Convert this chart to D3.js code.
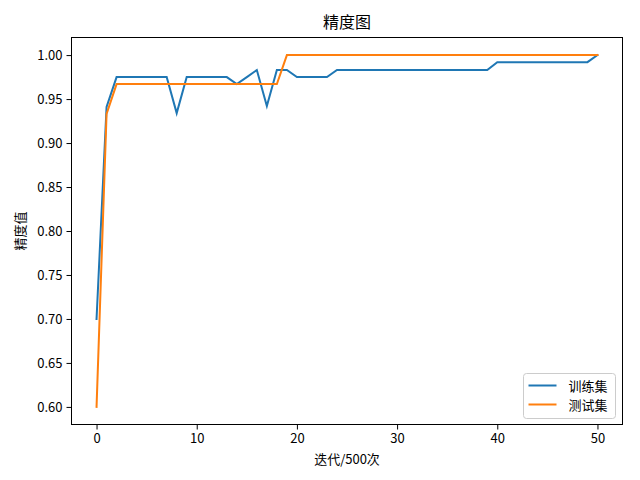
<!DOCTYPE html>
<html>
<head>
<meta charset="utf-8">
<script src="https://cdn.jsdelivr.net/npm/d3@7/dist/d3.min.js"></script>
<style>
  body { margin: 0; background: #fff; }
  text { font-family: "Noto Sans CJK SC", "DejaVu Sans", sans-serif; }
</style>
</head>
<body>
<svg width="640" height="480"></svg>
<script>
// iteration index (x500)
var steps = d3.range(0, 51);

var trainAcc = [0.70, 0.941, 0.975, 0.975, 0.975, 0.975, 0.975, 0.975, 0.934, 0.975,
  0.975, 0.975, 0.975, 0.975, 0.967, 0.975, 0.983, 0.942, 0.983, 0.983,
  0.975, 0.975, 0.975, 0.975, 0.983, 0.983, 0.983, 0.983, 0.983, 0.983,
  0.983, 0.983, 0.983, 0.983, 0.983, 0.983, 0.983, 0.983, 0.983, 0.983,
  0.992, 0.992, 0.992, 0.992, 0.992, 0.992, 0.992, 0.992, 0.992, 0.992,
  1.0];

var testAcc = [0.60, 0.933, 0.967, 0.967, 0.967, 0.967, 0.967, 0.967, 0.967, 0.967,
  0.967, 0.967, 0.967, 0.967, 0.967, 0.967, 0.967, 0.967, 0.967, 1.0,
  1.0, 1.0, 1.0, 1.0, 1.0, 1.0, 1.0, 1.0, 1.0, 1.0,
  1.0, 1.0, 1.0, 1.0, 1.0, 1.0, 1.0, 1.0, 1.0, 1.0,
  1.0, 1.0, 1.0, 1.0, 1.0, 1.0, 1.0, 1.0, 1.0, 1.0,
  1.0];

var seriesNames = ["训练集", "测试集"];
var xTicks = [0, 10, 20, 30, 40, 50];
var yTicks = [0.60, 0.65, 0.70, 0.75, 0.80, 0.85, 0.90, 0.95, 1.00];

var svg = d3.select("svg");
var plotL = 71.5, plotR = 622.5, plotT = 37.5, plotB = 424.5;
var colors = ["#1f77b4", "#ff7f0e"];

var x = d3.scaleLinear().domain([-2.5, 52.5]).range([plotL, plotR]);
var y = d3.scaleLinear().domain([0.58, 1.02]).range([plotB, plotT]);

var line = d3.line()
    .x(function(d, i) { return x(steps[i]); })
    .y(function(d) { return y(d); });

svg.selectAll(".series")
  .data([trainAcc, testAcc])
  .enter().append("path")
    .attr("class", "series")
    .attr("d", line)
    .attr("fill", "none")
    .attr("stroke", function(d, i) { return colors[i]; })
    .attr("stroke-width", 2)
    .attr("stroke-linecap", "square");

// axes
var xAxis = svg.append("g")
    .attr("transform", "translate(0," + plotB + ")")
    .call(d3.axisBottom(x).tickValues(xTicks).tickSize(5).tickPadding(4).tickFormat(d3.format("d")));
var yAxis = svg.append("g")
    .attr("transform", "translate(" + plotL + ",0)")
    .call(d3.axisLeft(y).tickValues(yTicks).tickSize(5).tickPadding(4).tickFormat(d3.format(".2f")));

[xAxis, yAxis].forEach(function(a) {
  a.select(".domain").remove();
  a.selectAll("line").attr("stroke", "#000").attr("stroke-width", 1);
  a.selectAll("text").attr("fill", "#000").style("font-size", "13px")
    .style("font-family", "'Noto Sans CJK SC', sans-serif");
});

svg.append("rect")
    .attr("x", plotL).attr("y", plotT)
    .attr("width", plotR - plotL).attr("height", plotB - plotT)
    .attr("fill", "none").attr("stroke", "#000").attr("stroke-width", 1);

// labels
svg.append("text")
    .attr("x", (plotL + plotR) / 2).attr("y", 28)
    .attr("text-anchor", "middle")
    .style("font-size", "16px")
    .text("精度图");

svg.append("text")
    .attr("x", (plotL + plotR) / 2).attr("y", 464)
    .attr("text-anchor", "middle")
    .style("font-size", "13px")
    .text("迭代/500次");

svg.append("text")
    .attr("transform", "translate(25," + ((plotT + plotB) / 2) + ") rotate(-90)")
    .attr("text-anchor", "middle")
    .style("font-size", "13px")
    .text("精度值");

// legend
var lg = svg.append("g").attr("transform", "translate(523.5,373.5)");
lg.append("rect")
    .attr("width", 92).attr("height", 45).attr("rx", 3)
    .attr("fill", "#fff").attr("fill-opacity", 0.8)
    .attr("stroke", "#ccc");
seriesNames.forEach(function(name, i) {
  var yy = 12 + i * 19;
  lg.append("line")
      .attr("x1", 5).attr("x2", 33).attr("y1", yy).attr("y2", yy)
      .attr("stroke", colors[i]).attr("stroke-width", 2);
  lg.append("text")
      .attr("x", 45).attr("y", yy + 5)
      .style("font-size", "13px")
      .text(name);
});
</script>
</body>
</html>
